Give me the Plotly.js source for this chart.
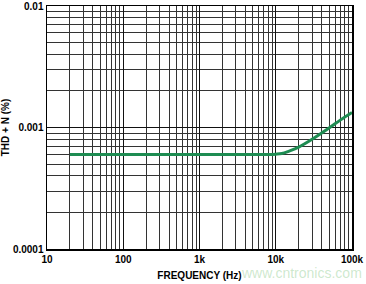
<!DOCTYPE html>
<html>
<head>
<meta charset="utf-8">
<script src="https://cdn.plot.ly/plotly-3.0.1.min.js"></script>
<style>html,body{margin:0;padding:0;background:#fff;}#chart{width:366px;height:284px;}</style>
</head>
<body>
<div id="chart"></div>
<script>
var freqHz = [20, 50, 100, 200, 500, 1000, 2000, 5000, 8000, 10000, 12000, 15000, 20000, 30000, 50000, 70000, 100000];
var thdPct = [0.0006, 0.0006, 0.0006, 0.0006, 0.0006, 0.0006, 0.0006, 0.0006, 0.0006, 0.000603, 0.00061, 0.00064, 0.00069, 0.00080, 0.00099, 0.00115, 0.00133];
var xTickVals = [10, 100, 1000, 10000, 100000];
var xTickText = ["10", "100", "1k", "10k", "100k"];
var yTickVals = [0.0001, 0.001, 0.01];
var yTickText = ["0.0001", "0.001", "0.01"];

function minorVals(lo, hi) {
  var out = [];
  for (var d = lo; d < hi; d++) {
    for (var k = 2; k <= 9; k++) out.push(k * Math.pow(10, d));
  }
  return out;
}

var fontFam = "Liberation Sans, Arial, sans-serif";
var trace = {
  x: freqHz, y: thdPct, type: "scatter", mode: "lines",
  line: {color: "#1e8c52", width: 3, shape: "spline"},
  hoverinfo: "none"
};
var layout = {
  width: 366, height: 284,
  margin: {l: 47, r: 14, t: 6, b: 35},
  paper_bgcolor: "#fff", plot_bgcolor: "#fff",
  showlegend: false,
  font: {family: fontFam, size: 10, color: "#000"},
  xaxis: {
    type: "log", range: [1, 5],
    tickmode: "array", tickvals: xTickVals, ticktext: xTickText,
    tickfont: {family: fontFam, size: 10, color: "#000", weight: "bold"},
    showgrid: true, gridcolor: "#111", gridwidth: 1.3,
    minor: {tickmode: "array", tickvals: minorVals(1, 5), showgrid: true, gridcolor: "#333", gridwidth: 1, ticks: ""},
    showline: true, linecolor: "#000", linewidth: 1.5, mirror: true,
    ticks: "", zeroline: false,
    title: {text: "FREQUENCY (Hz)", font: {family: fontFam, size: 10, color: "#000", weight: "bold"}, standoff: 8}
  },
  yaxis: {
    type: "log", range: [-4, -2],
    tickmode: "array", tickvals: yTickVals, ticktext: yTickText,
    tickfont: {family: fontFam, size: 10, color: "#000", weight: "bold"},
    showgrid: true, gridcolor: "#111", gridwidth: 1.3,
    minor: {tickmode: "array", tickvals: minorVals(-4, -2), showgrid: true, gridcolor: "#333", gridwidth: 1, ticks: ""},
    showline: true, linecolor: "#000", linewidth: 1.5, mirror: true,
    ticks: "", zeroline: false,
    title: {text: "THD + N (%)", font: {family: fontFam, size: 10, color: "#000", weight: "bold"}, standoff: 6}
  },
  annotations: [{
    text: "www.cntronics.com", xref: "paper", yref: "paper",
    x: 1.04, y: -0.1, xanchor: "right", yanchor: "middle", showarrow: false,
    font: {family: fontFam, size: 14, color: "rgba(110,190,110,0.35)"}
  }]
};
Plotly.newPlot("chart", [trace], layout, {staticPlot: true, displayModeBar: false});
</script>
</body>
</html>
